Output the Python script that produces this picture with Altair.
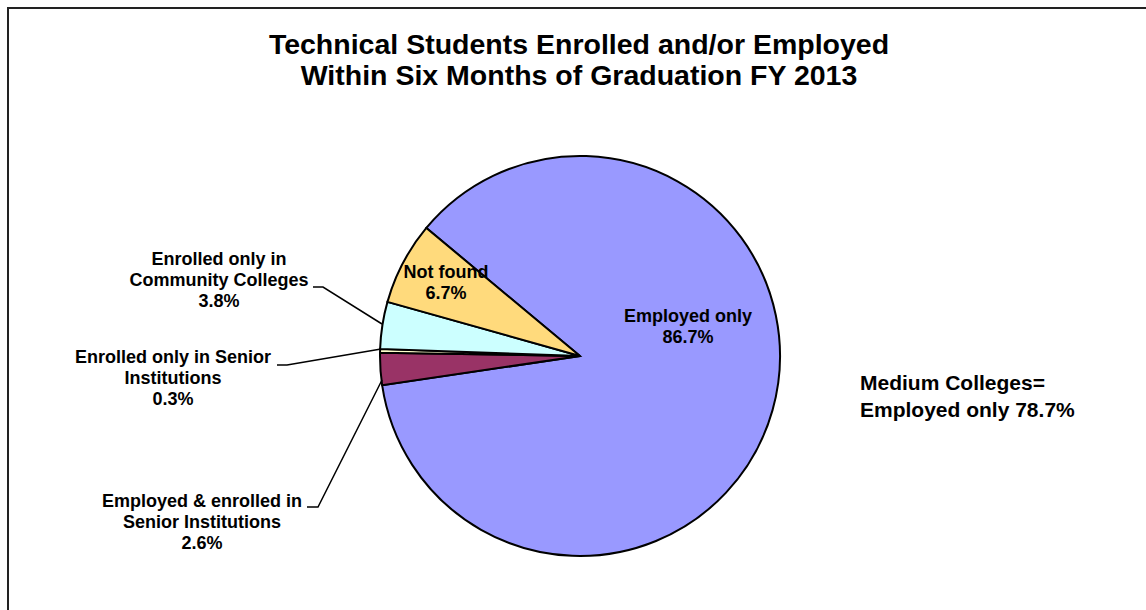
import math
import altair as alt
import pandas as pd

# ---- data ----
categories = ["Employed only", "Employed & enrolled in Senior Institutions",
              "Enrolled only in Senior Institutions",
              "Enrolled only in Community Colleges", "Not found"]
values = [86.7, 2.6, 0.3, 3.8, 6.7]
colors = ["#9999FF", "#993366", "#FFFFCC", "#CCFFFF", "#FFDA7C"]
label_texts = ["Employed only\n86.7%",
               "Employed & enrolled in\nSenior Institutions\n2.6%",
               "Enrolled only in Senior\nInstitutions\n0.3%",
               "Enrolled only in\nCommunity Colleges\n3.8%",
               "Not found\n6.7%"]
title_text = "Technical Students Enrolled and/or Employed\nWithin Six Months of Graduation FY 2013"
note_text = "Medium Colleges=\nEmployed only 78.7%"

# ---- layout (pixel positions, styles) ----
W, H = 1146, 610
CX, CY, R = 580, 356, 200
start = math.radians(-50.2)
label_x = [688, 202, 173, 219, 446]
label_y = [317, 502, 358, 260, 273]
leaders = [
    # (id, x, y)
    (1, 307, 507), (1, 318, 507), (1, 382, 380),
    (2, 277, 365), (2, 287, 365), (2, 381, 349),
    (3, 313, 287), (3, 323, 287), (3, 382, 324),
]

font = "Liberation Sans"

df = pd.DataFrame({"category": categories, "value": values,
                   "order": list(range(len(categories)))})

pie = alt.Chart(df).mark_arc(outerRadius=R, stroke="black", strokeWidth=2).encode(
    theta=alt.Theta("value:Q", stack=True,
                    scale=alt.Scale(range=[start, start + 2 * math.pi])),
    order=alt.Order("order:Q"),
    color=alt.Color("category:N", scale=alt.Scale(domain=categories, range=colors),
                    legend=None),
    x=alt.value(CX), y=alt.value(CY),
)

lab_df = pd.DataFrame({"text": label_texts, "x": label_x, "y": label_y})
labels = alt.Chart(lab_df).mark_text(
    font=font, fontSize=18, fontWeight="bold", lineBreak="\n", lineHeight=21,
    align="center", baseline="middle", color="black"
).encode(
    x=alt.X("x:Q", scale=None), y=alt.Y("y:Q", scale=None), text="text:N"
)

lead_df = pd.DataFrame(leaders, columns=["id", "x", "y"])
lead_df["i"] = range(len(lead_df))
lead = alt.Chart(lead_df).mark_line(color="black", strokeWidth=1.5).encode(
    x=alt.X("x:Q", scale=None), y=alt.Y("y:Q", scale=None),
    detail="id:N", order="i:Q"
)

title = alt.Chart(pd.DataFrame({"t": [title_text]})).mark_text(
    font=font, fontSize=28.5, fontWeight="bold", lineBreak="\n", lineHeight=31,
    align="center", baseline="middle", color="black"
).encode(x=alt.value(579), y=alt.value(45), text="t:N")

note = alt.Chart(pd.DataFrame({"t": [note_text]})).mark_text(
    font=font, fontSize=21, fontWeight="bold", lineBreak="\n", lineHeight=27,
    align="left", baseline="middle", color="black"
).encode(x=alt.value(860), y=alt.value(384), text="t:N")

frame_df = pd.DataFrame({"id": [0, 0, 0], "x": [8, 8, 1150], "y": [615, 8, 8],
                         "i": [0, 1, 2]})
frame = alt.Chart(frame_df).mark_line(color="#222222", strokeWidth=2).encode(
    x=alt.X("x:Q", scale=None), y=alt.Y("y:Q", scale=None), detail="id:N", order="i:Q"
)

chart = alt.layer(frame, pie, lead, labels, title, note).properties(
    width=W, height=H, padding=0, autosize=alt.AutoSizeParams(type="none"),
    background="white"
).configure_view(stroke=None)

chart.save("out.html", embed_options={"renderer": "svg", "actions": False})
